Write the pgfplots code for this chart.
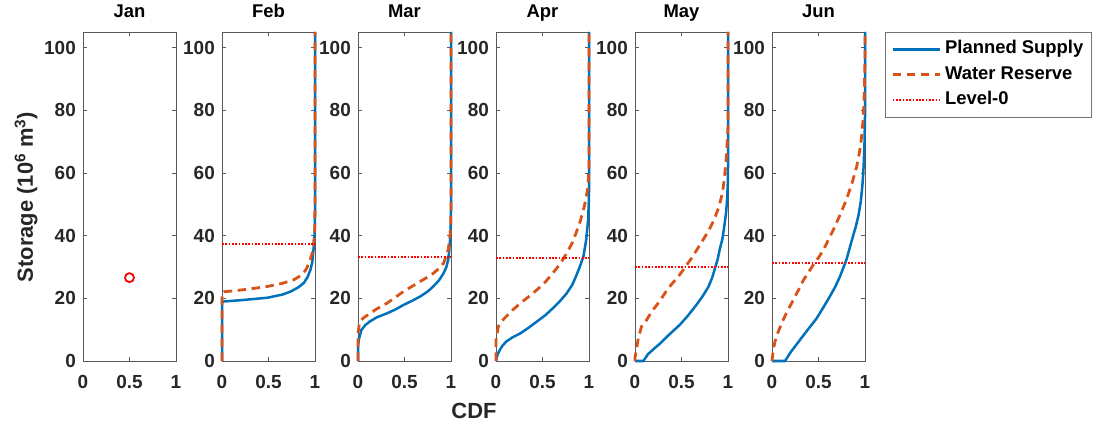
\documentclass[border=0pt]{standalone}
\usepackage{fontspec}
\setmainfont{Liberation Sans}
\usepackage{pgfplots}
\pgfplotsset{compat=1.18}
\definecolor{mblue}{rgb}{0,0.447,0.741}
\definecolor{morange}{rgb}{0.85,0.325,0.098}
\definecolor{axgray}{rgb}{0.15,0.15,0.15}
\pgfplotsset{
  mstyle/.style={
    scale only axis, width=93bp, height=329bp,
    xmin=0, xmax=1, ymin=0, ymax=105,
    xtick={0,0.5,1}, ytick={0,20,40,60,80,100},
    tick align=inside, major tick length=4bp,
    axis line style={black!65, line width=0.6bp},
    every tick/.style={black!65, line width=0.6bp},
    /pgf/number format/assume math mode=true,
    ticklabel style={font=\bfseries\fontsize{19}{19}\selectfont, text=axgray},
    yticklabel style={inner sep=0pt, anchor=east, xshift=-7bp},
    xticklabel style={inner sep=0pt, anchor=north, yshift=-14bp},
    title style={font=\bfseries\fontsize{18.5}{18.5}\selectfont, text=black, at={(0.5,1)}, anchor=base, yshift=9bp, inner sep=0pt},
    anchor=south west, clip=false,
  },
  ps/.style={mblue, line width=2.5bp},
  wr/.style={morange, line width=2.8bp, dash pattern=on 8.5bp off 5.5bp},
  lv/.style={red, line width=2.2bp, dash pattern=on 1.7bp off 1.6bp},
}
\begin{document}
\begin{tikzpicture}
\useasboundingbox (0,0) rectangle (1100bp,425bp);
% Jan
\begin{axis}[mstyle, at={(83bp,64bp)}, title={Jan}]
\addplot[only marks, mark=o, red, mark size=4.5bp, line width=1.8bp] coordinates {(0.5,26.6)};
\end{axis}
% Feb
\begin{axis}[mstyle, at={(222bp,64bp)}, title={Feb}]
\addplot[ps] coordinates {(0,0) (0,18.9) (0.02,19.0) (0.2,19.4) (0.49,20.2) (0.65,21.2) (0.74,22.2) (0.82,23.5) (0.88,24.9) (0.92,26.8) (0.95,29) (0.97,31.5) (0.98,34.4) (0.99,37.5) (0.996,40.8) (1,46) (1,105)};
\addplot[wr] coordinates {(0,0) (0,21.6) (0.02,22.1) (0.13,22.4) (0.3,23) (0.49,23.8) (0.65,24.8) (0.77,25.9) (0.85,27.3) (0.9,29) (0.94,31.5) (0.97,34.4) (0.985,37.5) (0.996,41) (1,50) (1,105)};
\addplot[lv] coordinates {(0,37.3) (1,37.3)};
\end{axis}
% Mar
\begin{axis}[mstyle, at={(358bp,64bp)}, title={Mar}]
\addplot[ps] coordinates {(0,0) (0,4.6) (0.01,7) (0.036,9.9) (0.08,11.5) (0.126,12.6) (0.2,13.9) (0.31,15.2) (0.4,16.4) (0.49,17.9) (0.58,19.2) (0.67,20.6) (0.75,22.2) (0.81,23.8) (0.87,25.7) (0.92,28) (0.95,30) (0.97,32.3) (0.98,35) (0.99,38.7) (0.997,43) (1,48) (1,105)};
\addplot[wr] coordinates {(0,0) (0,8.8) (0.018,12.6) (0.06,13.8) (0.13,15.2) (0.2,16.6) (0.31,18.4) (0.4,20.3) (0.49,22.2) (0.58,23.8) (0.67,25.4) (0.75,26.8) (0.81,28) (0.87,29.5) (0.92,31.2) (0.97,35.5) (0.99,40) (0.996,43) (1,50) (1,105)};
\addplot[lv] coordinates {(0,33.2) (1,33.2)};
\end{axis}
% Apr
\begin{axis}[mstyle, at={(496bp,64bp)}, title={Apr}]
\addplot[ps] coordinates {(0,0) (0.007,1) (0.02,2.3) (0.04,3.5) (0.07,4.9) (0.11,6.2) (0.18,7.6) (0.26,8.8) (0.35,10.6) (0.44,12.6) (0.53,14.6) (0.61,16.8) (0.69,19.2) (0.76,21.6) (0.82,24.3) (0.86,27) (0.9,30) (0.94,33.4) (0.97,38.7) (0.99,45) (0.997,50) (1,54) (1,105)};
\addplot[wr] coordinates {(0,0) (0,6.7) (0.025,11) (0.06,12.7) (0.11,14.2) (0.18,16.3) (0.26,18.4) (0.35,20.5) (0.44,22.7) (0.53,25.2) (0.61,28) (0.69,31) (0.76,34.4) (0.82,37.7) (0.86,40.8) (0.91,45) (0.95,49.4) (0.98,54) (0.99,55.8) (1,62) (1,105)};
\addplot[lv] coordinates {(0,32.9) (1,32.9)};
\end{axis}
% May
\begin{axis}[mstyle, at={(635bp,64bp)}, title={May}]
\addplot[ps] coordinates {(0,0) (0.09,0) (0.14,2.2) (0.2,3.8) (0.27,5.6) (0.37,8.5) (0.48,11.5) (0.57,14.5) (0.66,17.9) (0.73,20.8) (0.79,23.7) (0.83,26.6) (0.86,29.6) (0.89,32.6) (0.91,35.5) (0.94,39) (0.96,43) (0.98,47.5) (0.99,51.5) (0.997,56) (1,62) (1,105)};
\addplot[wr] coordinates {(0,0) (0,1) (0.036,7.3) (0.07,11) (0.125,13.1) (0.18,15.8) (0.25,18.5) (0.36,23.3) (0.48,27.5) (0.61,32.9) (0.72,38.1) (0.79,41.5) (0.85,45) (0.9,49) (0.94,53.6) (0.96,58) (0.98,64.3) (0.99,69) (1,75) (1,105)};
\addplot[lv] coordinates {(0,29.9) (1,29.9)};
\end{axis}
% Jun
\begin{axis}[mstyle, at={(772bp,64bp)}, title={Jun},
  legend style={at={(1.215,1)}, anchor=north west, draw=black!55, line width=0.6bp, fill=white,
    font=\bfseries\fontsize{18.5}{18.5}\selectfont, inner xsep=6bp, inner ysep=7bp, row sep=5.5bp, column sep=2bp,
    nodes={inner sep=2bp, text height=12.5bp, text depth=3.5bp}},
  legend cell align=left,
  legend image code/.code={\draw[#1] (0bp,0bp) -- (47bp,0bp);}]
\addplot[ps] coordinates {(0,0) (0.14,0) (0.2,2.8) (0.3,6.7) (0.39,10.2) (0.48,13.6) (0.55,17) (0.62,20.5) (0.68,23.7) (0.73,26.9) (0.8,32.3) (0.86,38.7) (0.9,42.8) (0.93,46.5) (0.955,51) (0.972,56) (0.985,62) (0.995,70) (1,78) (1,105)};
\addplot[wr] coordinates {(0,0) (0.01,2.5) (0.03,6) (0.06,8.8) (0.11,12.5) (0.17,16.2) (0.23,19.5) (0.34,25.9) (0.44,30.5) (0.51,33.4) (0.57,36.5) (0.66,41.9) (0.73,46.5) (0.8,51.5) (0.86,56.7) (0.91,62) (0.94,66.5) (0.96,70.7) (0.98,77) (0.99,83.5) (1,96) (1,105)};
\addplot[lv] coordinates {(0,31.2) (1,31.2)};
\legend{Planned Supply, Water Reserve, Level-0}
\end{axis}
\node[rotate=90, font=\bfseries\fontsize{22}{22}\selectfont, text=axgray] at (26bp,228bp) {Storage (10\textsuperscript{6} m\textsuperscript{3})};
\node[font=\bfseries\fontsize{22}{22}\selectfont, text=axgray] at (474bp,14.5bp) {CDF};
\end{tikzpicture}
\end{document}
